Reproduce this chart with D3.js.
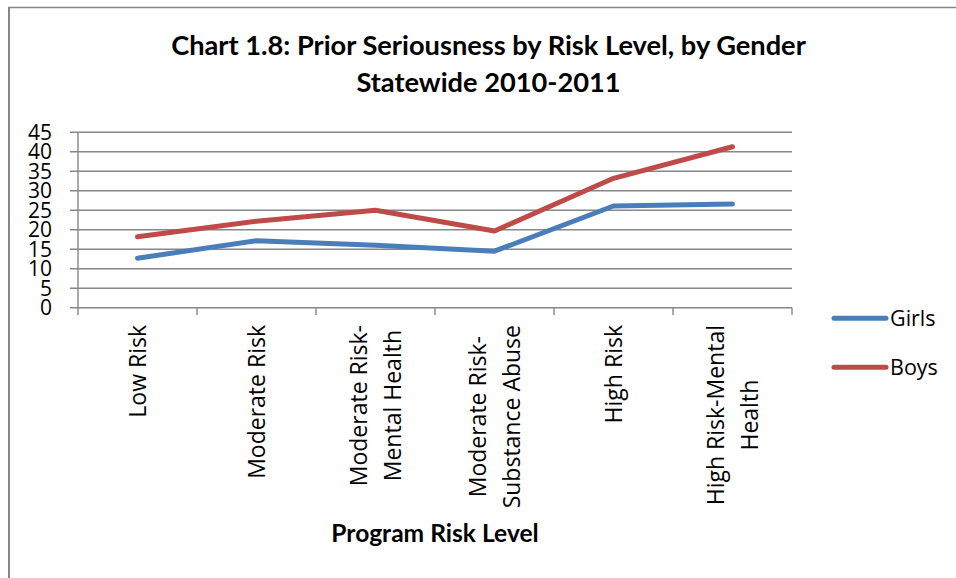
<!DOCTYPE html>
<html><head><meta charset="utf-8">
<script src="https://cdn.jsdelivr.net/npm/d3@7"></script>
<style>body{margin:0;background:#fff}svg{display:block}</style>
</head><body>
<svg id="c" width="956" height="578"></svg>
<script>
const titleLines = ["Chart 1.8: Prior Seriousness by Risk Level, by Gender", "Statewide 2010-2011"];
const xTitle = "Program Risk Level";
const categories = ["Low Risk", "Moderate Risk", "Moderate Risk-\nMental Health", "Moderate Risk-\nSubstance Abuse", "High Risk", "High Risk-Mental\nHealth"];
const girls = [12.7, 17.2, 16.0, 14.5, 26.1, 26.6];
const boys = [18.2, 22.2, 25.0, 19.7, 33.2, 41.3];
const seriesNames = ["Girls", "Boys"];
const yTicks = [0, 5, 10, 15, 20, 25, 30, 35, 40, 45];

const svg = d3.select("#c");
const W = 956, H = 578;
const colors = ["#4a7ebb", "#be4b48"];
const gridColor = "#878787";
const labelFont = "'Open Sans', 'Noto Sans', sans-serif";
const titleFont = "Lato, 'Open Sans', sans-serif";

// outer border
svg.append("rect").attr("x", 9).attr("y", 7.5).attr("width", W + 10).attr("height", H + 10)
  .attr("fill", "none").attr("stroke", "#868686").attr("stroke-width", 1.5);
svg.append("line").attr("x1", 9).attr("x2", 9).attr("y1", 7).attr("y2", H)
  .attr("stroke", "#868686").attr("stroke-width", 2);

const x = d3.scaleBand().domain(categories).range([78, 792]).padding(0);
const y = d3.scaleLinear().domain([0, 45]).range([307.7, 132.3]);

// gridlines
svg.append("g").selectAll("line").data(yTicks).join("line")
  .attr("x1", 70).attr("x2", 792)
  .attr("y1", d => y(d)).attr("y2", d => y(d))
  .attr("stroke", gridColor).attr("stroke-width", 1.4);

// y axis line
svg.append("line").attr("x1", 78).attr("x2", 78).attr("y1", y(45)).attr("y2", 315)
  .attr("stroke", gridColor).attr("stroke-width", 1.4);

// x axis ticks at category boundaries
const bounds = categories.map(c => x(c)).concat([x.range()[1]]);
svg.append("g").selectAll("line").data(bounds.slice(1)).join("line")
  .attr("x1", d => d).attr("x2", d => d).attr("y1", y(0)).attr("y2", 315)
  .attr("stroke", gridColor).attr("stroke-width", 1.4);

// y tick labels
svg.append("g").selectAll("text").data(yTicks).join("text")
  .attr("x", 52).attr("y", d => y(d)).attr("dy", "0.35em")
  .attr("text-anchor", "end")
  .attr("font-family", labelFont).attr("font-size", 21).attr("fill", "#000")
  .text(d => d);

// x labels
const fs = 23, capH = fs * 0.714, lineGap = 33.7, topY = 325;
categories.forEach(cat => {
  const lines = cat.split("\n");
  const cx = x(cat) + x.bandwidth() / 2;
  const g = svg.append("g");
  const texts = lines.map((ln, i) => {
    const bx = cx + capH / 2 + (i - (lines.length - 1) / 2) * lineGap;
    return g.append("text").attr("font-family", labelFont).attr("font-size", fs)
      .attr("text-anchor", "middle").attr("fill", "#000").text(ln)
      .attr("data-bx", bx);
  });
  const maxLen = d3.max(texts, t => t.node().getComputedTextLength());
  const cy = topY + maxLen / 2;
  texts.forEach(t => {
    const bx = +t.attr("data-bx");
    t.attr("x", bx).attr("y", cy).attr("transform", `rotate(-90,${bx},${cy})`);
  });
});

// lines
const lineGen = d3.line().x((d, i) => x(categories[i]) + x.bandwidth() / 2).y(d => y(d));
[girls, boys].forEach((s, k) => {
  svg.append("path").datum(s).attr("d", lineGen).attr("fill", "none")
    .attr("stroke", colors[k]).attr("stroke-width", 5)
    .attr("stroke-linecap", "round").attr("stroke-linejoin", "round");
});

// title
const t1 = svg.append("text").attr("x", 488.5).attr("y", 55).attr("text-anchor", "middle")
  .attr("font-family", titleFont).attr("font-weight", "bold").attr("font-size", 24)
  .attr("fill", "#000").text(titleLines[0]);
const scale = 635 / t1.node().getComputedTextLength();
const tfs = 24 * scale;
t1.attr("font-size", tfs);
svg.append("text").attr("x", 488.5).attr("y", 91.7).attr("text-anchor", "middle")
  .attr("font-family", titleFont).attr("font-weight", "bold").attr("font-size", tfs)
  .attr("fill", "#000").text(titleLines[1]);

// x axis title
const xt = svg.append("text").attr("x", 435).attr("y", 541.7).attr("text-anchor", "middle")
  .attr("font-family", titleFont).attr("font-weight", "bold").attr("font-size", 20)
  .attr("fill", "#000").text(xTitle);
xt.attr("font-size", 20 * 207.6 / xt.node().getComputedTextLength());

// legend
const legY = [318.3, 367.3];
seriesNames.forEach((n, k) => {
  svg.append("line").attr("x1", 834).attr("x2", 886).attr("y1", legY[k]).attr("y2", legY[k])
    .attr("stroke", colors[k]).attr("stroke-width", 5).attr("stroke-linecap", "round");
  svg.append("text").attr("x", 890).attr("y", legY[k] + 7.7)
    .attr("font-family", labelFont).attr("font-size", 21.5).attr("fill", "#000").text(n);
});
</script>
</body></html>
